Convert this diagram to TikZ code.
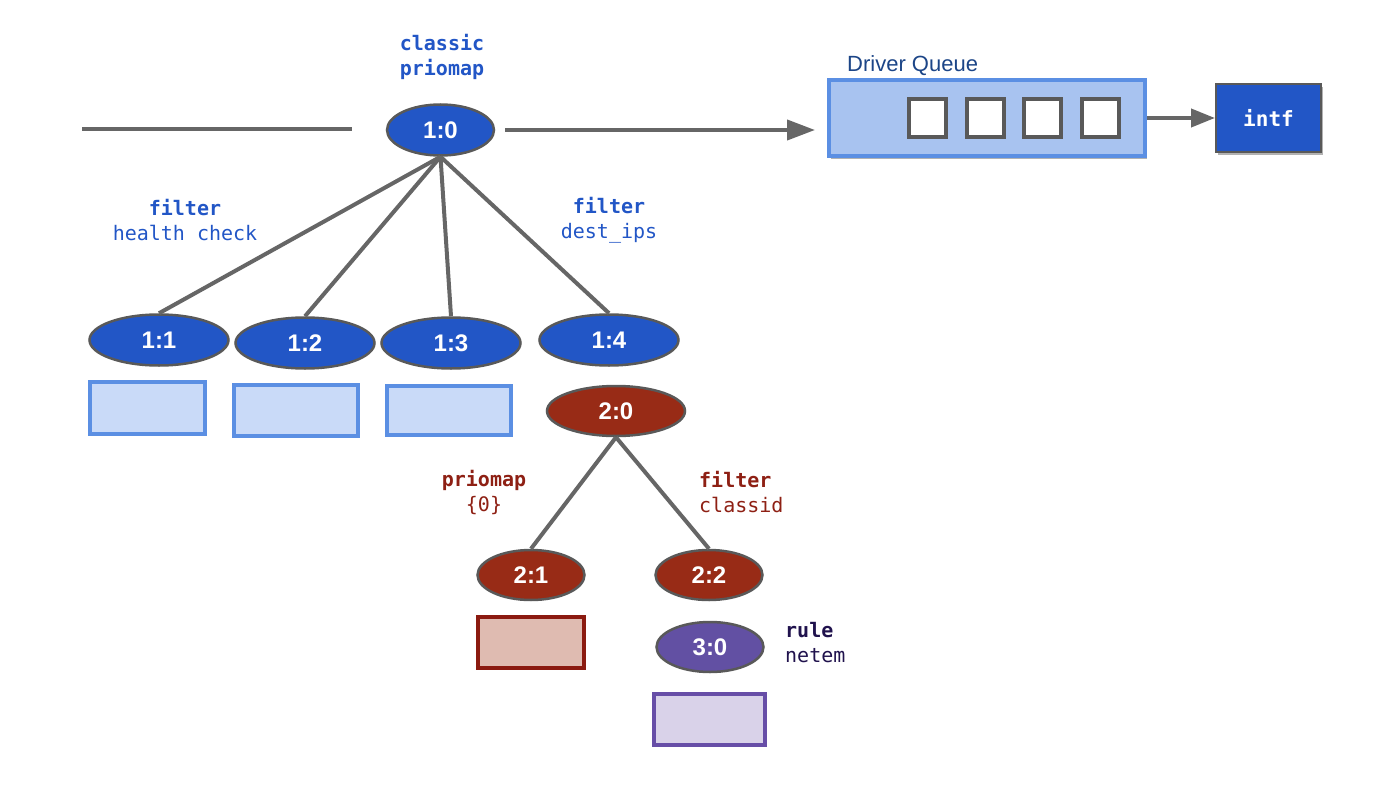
\documentclass[tikz,border=0pt]{standalone}
\usepackage{fontspec}
\setmainfont{Liberation Sans}
\setmonofont{DejaVu Sans Mono}
\usetikzlibrary{positioning}
\usetikzlibrary{shapes.geometric}
\usetikzlibrary{arrows.meta}
\usetikzlibrary{shadows}

\definecolor{qblue}{HTML}{2256C6}
\definecolor{qred}{HTML}{982B16}
\definecolor{qpurple}{HTML}{6250A3}
\definecolor{txtred}{HTML}{8E2014}
\definecolor{txtpurple}{HTML}{20124D}
\definecolor{txtnavy}{HTML}{1C4587}
\definecolor{ringgray}{HTML}{595959}
\definecolor{linegray}{HTML}{666666}
\definecolor{boxblue}{HTML}{C9DAF8}
\definecolor{edgeblue}{HTML}{5B8FE3}
\definecolor{queueblue}{HTML}{A8C3F0}
\definecolor{boxred}{HTML}{DFBBB1}
\definecolor{edgered}{HTML}{8B1A10}
\definecolor{boxpurple}{HTML}{D9D2E9}
\definecolor{edgepurple}{HTML}{674EA7}

\begin{document}
\begin{tikzpicture}[x = 1pt, y = -1pt,
    qdisc/.style = {shape = ellipse, draw = ringgray, line width = 2.5pt, inner sep = 0pt, text = white, font = \fontsize{24}{28}\selectfont\bfseries},
    bigq/.style = {qdisc, fill = qblue, minimum width = 139pt, minimum height = 51pt},
    rootq/.style = {qdisc, fill = qblue, minimum width = 107pt, minimum height = 51pt},
    redq/.style = {qdisc, fill = qred, minimum width = 107pt, minimum height = 50pt},
    netq/.style = {qdisc, fill = qpurple, minimum width = 107pt, minimum height = 50pt},
    leaf/.style = {shape = rectangle, line width = 4pt, inner sep = 0pt},
    slot/.style = {shape = rectangle, draw = ringgray, fill = white, line width = 4pt, minimum width = 37pt, minimum height = 38pt},
    link/.style = {draw = linegray, line width = 4pt},
    lbl/.style = {font = \fontsize{20}{25}\selectfont\ttfamily, inner sep = 0pt},
    shade/.style = {drop shadow = {shadow xshift = 1.5pt, shadow yshift = -3pt, opacity = 0.3, fill = black}},
    ]
    \useasboundingbox (0, 0) rectangle (1382, 792);

    % root and its classes
    \node[rootq] (Q0) at (440.5, 130) {1:0};
    \node[lbl, text = qblue, align = center, font = \fontsize{20}{25}\selectfont\ttfamily\bfseries] (Q0L) at (442, 57) {classic\\priomap};

    \node[bigq] (Q1) at (159, 340) {1:1};
    \node[bigq] (Q2) at (305, 343) {1:2};
    \node[bigq] (Q3) at (451, 343) {1:3};
    \node[bigq] (Q4) at (609, 340) {1:4};

    \draw[link] (Q0.south) -- (Q1.north);
    \draw[link] (Q0.south) -- (Q2.north);
    \draw[link] (Q0.south) -- (Q3.north);
    \draw[link] (Q0.south) -- (Q4.north);

    \node[lbl, text = qblue, align = center] (F1) at (185, 220) {\textbf{filter}\\health check};
    \node[lbl, text = qblue, align = center] (F4) at (609, 220) {\textbf{filter}\\dest\_ips};

    \node[leaf, draw = edgeblue, fill = boxblue, minimum width = 115pt, minimum height = 52pt] (B1) at (147.5, 408) {};
    \node[leaf, draw = edgeblue, fill = boxblue, minimum width = 124pt, minimum height = 51pt] (B2) at (296, 410.5) {};
    \node[leaf, draw = edgeblue, fill = boxblue, minimum width = 124pt, minimum height = 49pt] (B3) at (449, 410.5) {};

    % second level under 1:4
    \node[redq, minimum width = 138pt] (R0) at (616, 411) {2:0};
    \node[redq] (R1) at (531, 575) {2:1};
    \node[redq] (R2) at (709, 575) {2:2};

    \draw[link] (R0.south) -- (R1.north);
    \draw[link] (R0.south) -- (R2.north);

    \node[lbl, text = txtred, align = center] (F5) at (484, 492) {\textbf{priomap}\\\{0\}};
    \node[lbl, text = txtred, align = left, anchor = west] (F6) at (699, 492) {\textbf{filter}\\classid};

    \node[leaf, draw = edgered, fill = boxred, minimum width = 106pt, minimum height = 51pt] (B5) at (531, 642.5) {};

    % netem under 2:2
    \node[netq] (N0) at (710, 647) {3:0};
    \node[lbl, text = txtpurple, align = left, anchor = west] (F7) at (785, 643) {\textbf{rule}\\netem};
    \node[leaf, draw = edgepurple, fill = boxpurple, minimum width = 111pt, minimum height = 51pt] (B6) at (709.5, 719.5) {};

    % device side
    \node[leaf, draw = edgeblue, fill = queueblue, shade, minimum width = 316pt, minimum height = 76pt] (DQ) at (987, 118) {};
    \foreach \i in {0,...,3}
        \node[slot] (S\i) at (927.5 + 57.5*\i, 118) {};
    \node[anchor = base west, inner sep = 0pt, text = txtnavy, font = \fontsize{22}{26}\selectfont] (DQL) at (847, 72) {Driver Queue};

    \node[leaf, draw = ringgray, line width = 2pt, fill = qblue, shade, minimum width = 105pt, minimum height = 68pt, text = white, font = \fontsize{21}{25}\selectfont\ttfamily\bfseries] (IF) at (1268.5, 118) {intf};

    \coordinate (in0) at (82, 129);
    \coordinate (in1) at (352, 129);
    \draw[link] (in0) -- (in1);

    \draw[link, -{Triangle[length = 28pt, width = 20pt]}, shorten <= 10pt, shorten >= 12pt] (Q0.east) -- (Q0.east -| DQ.west);
    \draw[link, -{Triangle[length = 24pt, width = 18pt]}] (DQ.east) -- (IF.west);
\end{tikzpicture}
\end{document}
